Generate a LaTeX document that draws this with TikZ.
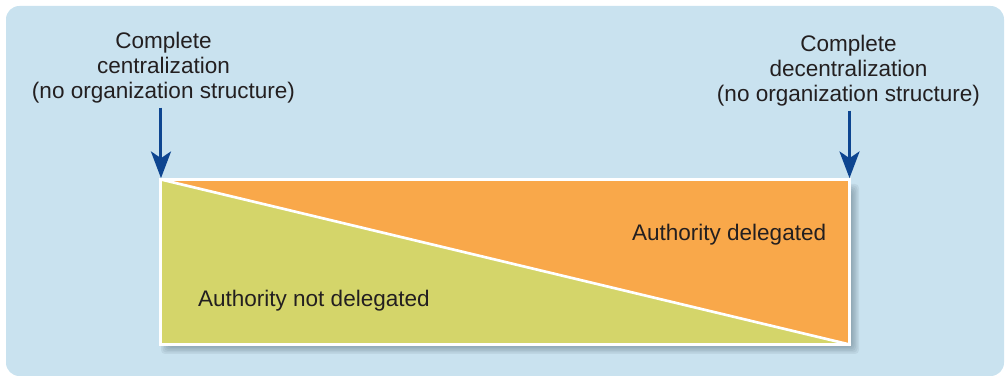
\documentclass[tikz,border=0pt]{standalone}
\usepackage{fontspec}
\setmainfont{Liberation Sans}
\usetikzlibrary{arrows.meta,calc}
\definecolor{bgblue}{HTML}{C9E2EF}
\definecolor{greenfill}{HTML}{D4D56A}
\definecolor{orangefill}{HTML}{F9A84A}
\definecolor{arrowblue}{HTML}{0D4590}
\definecolor{textdark}{HTML}{231F20}
\definecolor{shadowgray}{HTML}{5E7480}
\tikzset{
  lbl/.style={font=\fontsize{16.9}{18.75}\selectfont, text=textdark, inner sep=0pt, outer sep=0pt},
  toplbl/.style={lbl, align=center, anchor=base},
  arr/.style={draw=arrowblue, line width=2.25pt, -{Stealth[length=20pt,width=15pt,inset=5pt]}, shorten <=3pt, shorten >=1pt},
  boxnode/.style={draw=white, line width=2.25pt, inner sep=0pt, outer sep=0pt, minimum width=516.4pt, minimum height=123.75pt},
}
\begin{document}
\begin{tikzpicture}[x=0.75pt,y=-0.75pt]
\useasboundingbox (0,0) rectangle (1008,377);
% background
\fill[bgblue, rounded corners=10pt] (6,6) rectangle (1004,376);
% shadow
\foreach \s in {0,1.5,3,4.5,6,7.5}{
  \fill[shadowgray, opacity=0.11, rounded corners=3pt] (161+\s,184+\s) rectangle (859-\s,354-\s);
}
% box coordinate holder
\node[boxnode, draw=none] (box) at (505.25,262) {};
\fill[greenfill] (box.north west) -- (box.south east) -- (box.south west) -- cycle;
\fill[orangefill] (box.north west) -- (box.north east) -- (box.south east) -- cycle;
\draw[white, line width=2pt] (box.north west) -- (box.south east);
\node[boxnode] (frame) at (505.25,262) {};
% labels (base anchor = baseline of the last line)
\node[toplbl] (lt) at (163.5,99) {Complete\\centralization\\(no organization structure)};
\node[toplbl] (rt) at (848.5,102) {Complete\\decentralization\\(no organization structure)};
\node[lbl, anchor=base west] (nd) at (198,307) {Authority not delegated};
\node[lbl, anchor=base west] (dl) at (632,241) {Authority delegated};
% arrows
\draw[arr] (lt.south -| frame.north west) -- (frame.north west);
\draw[arr] (rt.south -| frame.north east) -- (frame.north east);
\end{tikzpicture}
\end{document}
